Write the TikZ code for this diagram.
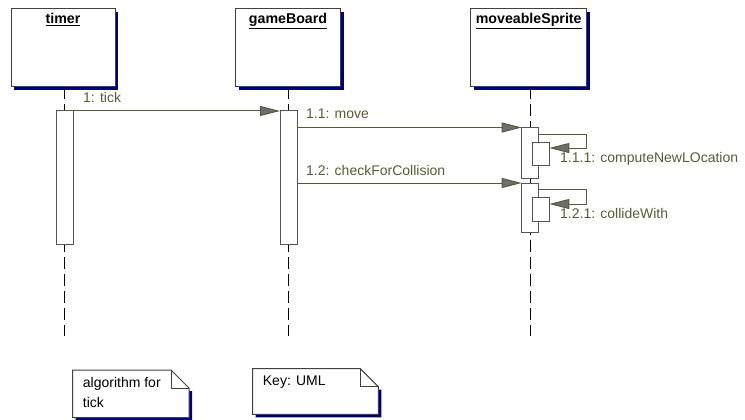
\documentclass[tikz,border=0pt]{standalone}
\usepackage{fontspec}
\setmainfont{Liberation Sans}
\usetikzlibrary{arrows.meta,shadows}
\definecolor{msgcol}{RGB}{90,90,56}
\definecolor{tipfill}{RGB}{110,110,110}
\definecolor{boxline}{RGB}{64,64,64}
\definecolor{actline}{RGB}{85,85,85}
\definecolor{shadowcol}{RGB}{0,0,120}
\tikzset{
  objbox/.style={draw=boxline, line width=1pt, fill=white, minimum height=78pt, inner sep=0pt,
    drop shadow={shadow xshift=3pt, shadow yshift=-3pt, fill=shadowcol, opacity=1}},
  objtitle/.style={font=\fontsize{14.2}{16}\selectfont\bfseries, inner sep=0pt, anchor=north},
  lifeline/.style={draw=black, line width=1pt, dash pattern=on 12pt off 5pt},
  actbar/.style={draw=actline, line width=1pt, fill=white},
  msg/.style={draw=msgcol, line width=1pt, -{Triangle[length=20pt,width=10pt,fill=tipfill]}},
  msglabel/.style={text=msgcol, font=\fontsize{14}{16}\selectfont, inner sep=0pt, anchor=west},
  notetext/.style={text=black, font=\fontsize{14}{20}\selectfont, inner sep=0pt, anchor=north west, align=left},
  noteline/.style={draw=boxline, line width=1pt, fill=white},
}
\begin{document}
\begin{tikzpicture}[x=1pt,y=-1pt]
\useasboundingbox (0,0) rectangle (745,420);

% object boxes
\node[objbox, minimum width=104pt] (timer) at (63,48) {};
\node[objbox, minimum width=105pt] (board) at (288,48) {};
\node[objbox, minimum width=116pt] (sprite) at (528.7,48) {};
\node[objtitle] (timerT) at (63,13) {\underline{timer}};
\node[objtitle] (boardT) at (288,13) {\underline{gameBoard}};
\node[objtitle] (spriteT) at (528.7,13) {\underline{moveableSprite}};

% lifeline ends
\coordinate (timerEnd) at (64.5,336);
\coordinate (boardEnd) at (288.5,336);
\coordinate (spriteEnd) at (530.5,336);
\coordinate (timerTop) at (64.5,87);
\coordinate (boardTop) at (288.5,87);
\coordinate (spriteTop) at (530.5,87);
\draw[lifeline] (timerTop) -- (timerEnd);
\draw[lifeline] (boardTop) -- (boardEnd);
\draw[lifeline] (spriteTop) -- (spriteEnd);

% activation bars
\draw[actbar] (56,111) rectangle (73,244);
\coordinate (timerActE) at (73,111);
\draw[actbar] (280,111) rectangle (297,244);
\coordinate (boardActW) at (280,111);
\coordinate (boardMoveS) at (297,127.5);
\coordinate (boardCheckS) at (297,183);

\draw[actbar] (521.7,127) rectangle (538.7,178);
\draw[actbar] (532.7,142) rectangle (549.3,165);
\draw[actbar] (521.7,183) rectangle (538.7,232);
\draw[actbar] (532.7,197) rectangle (549.3,221);
\coordinate (spriteMoveT) at (521.7,127.5);
\coordinate (spriteCheckT) at (521.7,183);
\coordinate (loopAs) at (538.7,134);
\coordinate (loopAe) at (549.3,148);
\coordinate (loopBs) at (538.7,189);
\coordinate (loopBe) at (549.3,204);

% messages
\draw[msg] (timerActE) -- (boardActW);
\node[msglabel] (lTick) at (83,97) {1: tick};
\draw[msg] (boardMoveS) -- (spriteMoveT);
\node[msglabel] (lMove) at (306,114) {1.1: move};
\draw[msg] (boardCheckS) -- (spriteCheckT);
\node[msglabel] (lCheck) at (306,170) {1.2: checkForCollision};
\draw[msg] (loopAs) -- (586.7,134) -- (586.7,148) -- (loopAe);
\node[msglabel] (lCompute) at (560,159) {1.1.1: computeNewLOcation};
\draw[msg] (loopBs) -- (586.7,189) -- (586.7,204) -- (loopBe);
\node[msglabel] (lCollide) at (560,213) {1.2.1: collideWith};

% notes
\fill[shadowcol] (75.7,420.7) -- (75.7,417.7) -- (189,417.7) -- (189,391) -- (192,391) -- (192,420.7) -- cycle;
\draw[noteline] (72.7,370) -- (171,370) -- (189,388) -- (189,417.7) -- (72.7,417.7) -- cycle;
\draw[draw=boxline, line width=1pt] (171,370) -- (171,388) -- (189,388);
\node[notetext] (note1) at (82.7,377) {algorithm for\\tick};

\fill[shadowcol] (255.7,417.3) -- (255.7,414.3) -- (378.3,414.3) -- (378.3,389.7) -- (381.3,389.7) -- (381.3,417.3) -- cycle;
\draw[noteline] (252.7,368.7) -- (360.3,368.7) -- (378.3,386.7) -- (378.3,414.3) -- (252.7,414.3) -- cycle;
\draw[draw=boxline, line width=1pt] (360.3,368.7) -- (360.3,386.7) -- (378.3,386.7);
\node[notetext] (note2) at (262.7,376) {Key: UML};
\end{tikzpicture}
\end{document}
